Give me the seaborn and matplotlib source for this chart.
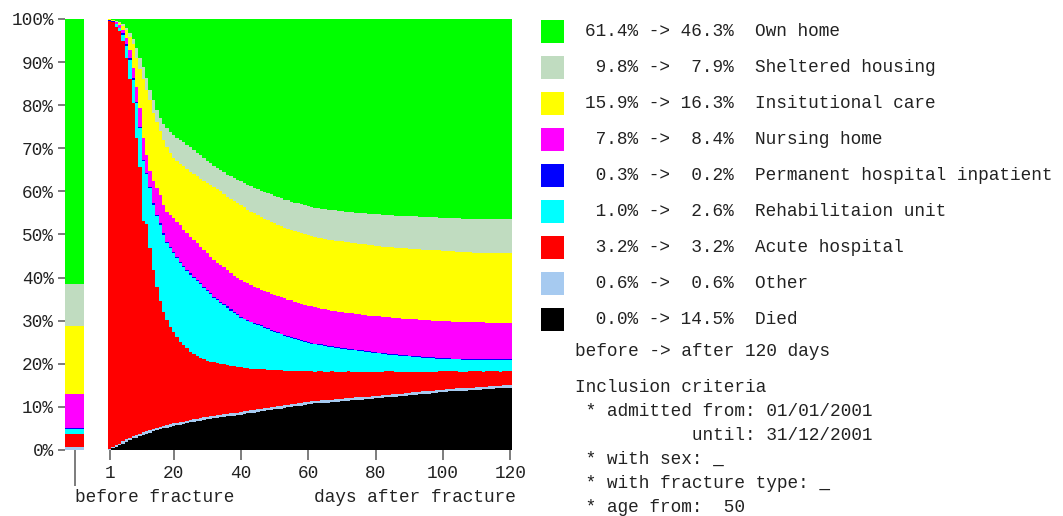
import numpy as np
import matplotlib
matplotlib.use("Agg")
import matplotlib.pyplot as plt
import seaborn as sns
from matplotlib.patches import Rectangle

# ---------------- data (percent of patients, stacked bottom -> top) ----------------
categories = ["Died", "Other", "Acute hospital", "Rehabilitaion unit",
              "Permanent hospital inpatient", "Nursing home", "Insitutional care",
              "Sheltered housing", "Own home"]
colors = ["#000000", "#a6caf0", "#ff0000", "#00ffff", "#0000ff",
          "#ff00ff", "#ffff00", "#c0dcc0", "#00ff00"]
before = [0.0, 0.6, 3.2, 1.0, 0.3, 7.8, 15.9, 9.8, 61.4]

days = list(range(1, 121))
x_ticks = [1, 20, 40, 60, 80, 100, 120]
y_ticks = [0, 10, 20, 30, 40, 50, 60, 70, 80, 90, 100]

died = [0.0, 0.4, 0.8, 1.2, 1.5, 1.9, 2.3, 2.7, 2.9, 3.2,
        3.5, 3.7, 4.0, 4.3, 4.6, 4.8, 5.0, 5.2, 5.4, 5.6,
        5.7, 5.9, 6.0, 6.2, 6.4, 6.5, 6.7, 6.8, 7.0, 7.1,
        7.2, 7.4, 7.5, 7.6, 7.7, 7.8, 7.9, 8.0, 8.1, 8.2,
        8.4, 8.5, 8.6, 8.7, 8.8, 9.0, 9.1, 9.2, 9.3, 9.4,
        9.5, 9.6, 9.8, 9.9, 10.0, 10.1, 10.2, 10.3, 10.5, 10.6,
        10.7, 10.8, 10.8, 10.9, 11.0, 11.0, 11.1, 11.2, 11.2, 11.3,
        11.4, 11.4, 11.5, 11.6, 11.6, 11.7, 11.8, 11.8, 11.9, 12.0,
        12.0, 12.1, 12.2, 12.2, 12.3, 12.4, 12.5, 12.5, 12.6, 12.7,
        12.8, 12.8, 12.9, 13.0, 13.1, 13.1, 13.2, 13.3, 13.4, 13.4,
        13.5, 13.6, 13.6, 13.7, 13.7, 13.8, 13.8, 13.9, 13.9, 14.0,
        14.0, 14.1, 14.1, 14.2, 14.2, 14.3, 14.3, 14.4, 14.4, 14.5]

other = [0.3, 0.3, 0.3, 0.3, 0.6, 0.6, 0.6, 0.6, 0.6, 0.6,
         0.6, 0.6, 0.6, 0.6, 0.6, 0.6, 0.6, 0.6, 0.6, 0.6,
         0.6, 0.6, 0.6, 0.6, 0.6, 0.6, 0.6, 0.6, 0.6, 0.6,
         0.6, 0.6, 0.6, 0.6, 0.6, 0.6, 0.6, 0.6, 0.6, 0.6,
         0.6, 0.6, 0.6, 0.6, 0.6, 0.6, 0.6, 0.6, 0.6, 0.6,
         0.6, 0.6, 0.6, 0.6, 0.6, 0.6, 0.6, 0.6, 0.6, 0.6,
         0.6, 0.6, 0.6, 0.6, 0.6, 0.6, 0.6, 0.6, 0.6, 0.6,
         0.6, 0.6, 0.6, 0.6, 0.6, 0.6, 0.6, 0.6, 0.6, 0.6,
         0.6, 0.6, 0.6, 0.6, 0.6, 0.6, 0.6, 0.6, 0.6, 0.6,
         0.6, 0.6, 0.6, 0.6, 0.6, 0.6, 0.6, 0.6, 0.6, 0.6,
         0.6, 0.6, 0.6, 0.6, 0.6, 0.6, 0.6, 0.6, 0.6, 0.6,
         0.6, 0.6, 0.6, 0.6, 0.6, 0.6, 0.6, 0.6, 0.6, 0.6]

acute = [99.2, 98.5, 97.1, 95.6, 92.8, 88.4, 83.1, 77.3, 69.0, 61.9,
         49.1, 48.1, 42.2, 36.9, 32.7, 29.2, 26.5, 24.4, 22.6, 21.2,
         20.0, 18.6, 17.8, 16.8, 15.8, 15.2, 14.6, 14.0, 13.4, 13.0,
         12.7, 12.4, 12.1, 11.8, 11.6, 11.3, 11.0, 10.8, 10.6, 10.4,
         10.1, 9.9, 9.7, 9.6, 9.4, 9.1, 9.0, 8.8, 8.7, 8.5,
         8.4, 8.3, 8.0, 7.9, 7.8, 7.7, 7.5, 7.5, 7.2, 7.1,
         7.0, 6.8, 6.9, 6.8, 6.6, 6.6, 6.6, 6.4, 6.4, 6.3,
         6.2, 6.3, 6.1, 6.0, 6.0, 5.9, 5.8, 5.8, 5.7, 5.6,
         5.6, 5.5, 5.5, 5.5, 5.4, 5.2, 5.1, 5.1, 5.0, 4.9,
         4.8, 4.8, 4.7, 4.6, 4.5, 4.5, 4.4, 4.3, 4.3, 4.3,
         4.2, 4.1, 4.1, 4.0, 3.9, 3.8, 3.8, 3.8, 3.8, 3.7,
         3.7, 3.5, 3.6, 3.5, 3.5, 3.4, 3.3, 3.3, 3.3, 3.2]

rehab = [0.1, 0.2, 0.6, 0.8, 1.5, 2.9, 4.6, 5.3, 8.0, 9.0,
         13.8, 11.6, 14.0, 15.1, 16.3, 17.7, 17.9, 17.8, 18.3, 18.3,
         18.2, 18.3, 18.0, 17.9, 17.9, 17.6, 17.2, 17.0, 16.6, 16.1,
         15.6, 14.9, 14.5, 14.1, 13.7, 13.3, 12.8, 12.4, 12.0, 11.4,
         11.2, 11.0, 10.7, 10.4, 10.2, 10.0, 9.7, 9.4, 9.1, 8.9,
         8.6, 8.3, 8.1, 7.9, 7.6, 7.4, 7.2, 6.9, 6.8, 6.6,
         6.4, 6.3, 6.1, 6.0, 5.9, 5.8, 5.6, 5.5, 5.4, 5.3,
         5.2, 5.0, 5.0, 4.9, 4.8, 4.7, 4.6, 4.5, 4.4, 4.3,
         4.2, 4.1, 3.9, 3.8, 3.8, 3.8, 3.7, 3.6, 3.6, 3.5,
         3.4, 3.3, 3.3, 3.2, 3.2, 3.1, 3.1, 3.0, 2.9, 2.8,
         2.8, 2.8, 2.7, 2.7, 2.8, 2.7, 2.7, 2.6, 2.6, 2.6,
         2.6, 2.7, 2.6, 2.6, 2.6, 2.6, 2.7, 2.6, 2.6, 2.6]

perm = [0.1, 0.1, 0.1, 0.1, 0.3, 0.3, 0.3, 0.3, 0.3, 0.3,
        0.3, 0.3, 0.3, 0.3, 0.3, 0.3, 0.3, 0.3, 0.3, 0.3,
        0.3, 0.3, 0.3, 0.3, 0.3, 0.3, 0.3, 0.3, 0.3, 0.3,
        0.3, 0.3, 0.3, 0.3, 0.3, 0.3, 0.3, 0.3, 0.3, 0.3,
        0.2, 0.2, 0.2, 0.2, 0.2, 0.2, 0.2, 0.2, 0.2, 0.2,
        0.2, 0.2, 0.2, 0.2, 0.2, 0.2, 0.2, 0.2, 0.2, 0.2,
        0.2, 0.2, 0.2, 0.2, 0.2, 0.2, 0.2, 0.2, 0.2, 0.2,
        0.2, 0.2, 0.2, 0.2, 0.2, 0.2, 0.2, 0.2, 0.2, 0.2,
        0.2, 0.2, 0.2, 0.2, 0.2, 0.2, 0.2, 0.2, 0.2, 0.2,
        0.2, 0.2, 0.2, 0.2, 0.2, 0.2, 0.2, 0.2, 0.2, 0.2,
        0.2, 0.2, 0.2, 0.2, 0.2, 0.2, 0.2, 0.2, 0.2, 0.2,
        0.2, 0.2, 0.2, 0.2, 0.2, 0.2, 0.2, 0.2, 0.2, 0.2]

nursing = [0.1, 0.1, 0.3, 0.5, 0.8, 1.4, 1.9, 2.4, 3.5, 4.3,
           5.2, 4.2, 3.7, 5.3, 6.2, 6.6, 6.5, 7.0, 7.3, 7.8,
           8.2, 8.5, 8.3, 8.5, 8.5, 8.5, 8.6, 8.5, 8.5, 8.5,
           8.4, 8.5, 8.5, 8.5, 8.5, 8.5, 8.4, 8.3, 8.2, 8.5,
           8.5, 8.5, 8.5, 8.4, 8.3, 8.3, 8.3, 8.4, 8.4, 8.4,
           8.4, 8.4, 8.5, 8.4, 8.5, 8.4, 8.5, 8.4, 8.4, 8.4,
           8.4, 8.4, 8.3, 8.2, 8.3, 8.2, 8.2, 8.3, 8.3, 8.3,
           8.3, 8.3, 8.3, 8.3, 8.3, 8.3, 8.3, 8.3, 8.3, 8.3,
           8.4, 8.4, 8.5, 8.5, 8.4, 8.5, 8.5, 8.5, 8.5, 8.5,
           8.5, 8.6, 8.5, 8.6, 8.5, 8.6, 8.5, 8.6, 8.6, 8.6,
           8.6, 8.6, 8.6, 8.6, 8.6, 8.6, 8.6, 8.6, 8.5, 8.5,
           8.5, 8.5, 8.4, 8.4, 8.4, 8.4, 8.4, 8.4, 8.4, 8.4]

inst = [0.1, 0.1, 0.2, 0.5, 0.9, 1.9, 3.0, 5.6, 6.7, 9.0,
        13.6, 15.1, 16.4, 15.8, 15.3, 14.8, 15.2, 14.9, 14.3, 14.0,
        14.0, 14.1, 14.8, 14.9, 15.1, 15.3, 15.5, 15.7, 16.0, 16.4,
        16.7, 16.9, 17.0, 17.1, 17.0, 17.0, 17.3, 17.4, 17.5, 17.4,
        17.3, 17.1, 17.0, 17.0, 17.0, 16.9, 16.8, 16.8, 16.7, 16.6,
        16.5, 16.5, 16.4, 16.4, 16.3, 16.4, 16.4, 16.5, 16.5, 16.5,
        16.4, 16.4, 16.4, 16.4, 16.4, 16.4, 16.4, 16.4, 16.4, 16.4,
        16.4, 16.4, 16.4, 16.4, 16.4, 16.4, 16.4, 16.4, 16.4, 16.4,
        16.3, 16.3, 16.2, 16.2, 16.3, 16.2, 16.3, 16.3, 16.3, 16.3,
        16.4, 16.3, 16.4, 16.3, 16.4, 16.3, 16.4, 16.3, 16.3, 16.3,
        16.3, 16.2, 16.3, 16.2, 16.2, 16.2, 16.2, 16.2, 16.2, 16.2,
        16.2, 16.2, 16.3, 16.3, 16.3, 16.3, 16.3, 16.3, 16.3, 16.3]

sheltered = [0.0, 0.1, 0.2, 0.3, 0.5, 0.6, 1.0, 1.1, 2.3, 2.7,
             2.8, 2.6, 2.3, 2.9, 2.8, 3.0, 3.6, 4.4, 5.0, 5.3,
             5.5, 5.7, 5.6, 5.6, 5.6, 5.6, 5.5, 5.5, 5.3, 5.1,
             5.0, 4.9, 4.9, 4.9, 5.0, 5.1, 5.2, 5.3, 5.4, 5.6,
             5.7, 5.8, 5.9, 6.0, 6.0, 6.1, 6.2, 6.2, 6.3, 6.4,
             6.5, 6.5, 6.5, 6.6, 6.6, 6.6, 6.6, 6.6, 6.6, 6.6,
             6.7, 6.7, 6.8, 6.9, 6.9, 7.0, 7.0, 7.0, 7.0, 7.0,
             7.0, 7.0, 7.1, 7.1, 7.1, 7.2, 7.2, 7.2, 7.3, 7.3,
             7.4, 7.4, 7.5, 7.5, 7.5, 7.5, 7.5, 7.5, 7.5, 7.6,
             7.5, 7.6, 7.5, 7.6, 7.6, 7.6, 7.6, 7.7, 7.6, 7.7,
             7.7, 7.7, 7.7, 7.8, 7.8, 7.8, 7.8, 7.8, 7.9, 7.9,
             7.9, 7.9, 7.9, 7.9, 7.9, 7.9, 7.9, 7.9, 7.9, 7.9]

own_home = [0.1, 0.2, 0.4, 0.7, 1.1, 2.0, 3.2, 4.7, 6.7, 9.0,
            11.1, 13.8, 16.5, 18.8, 21.2, 23.0, 24.4, 25.4, 26.2, 26.9,
            27.5, 28.0, 28.6, 29.2, 29.8, 30.4, 31.0, 31.6, 32.3, 32.9,
            33.5, 34.1, 34.6, 35.1, 35.6, 36.1, 36.5, 36.9, 37.3, 37.6,
            38.0, 38.4, 38.8, 39.1, 39.5, 39.8, 40.1, 40.4, 40.7, 41.0,
            41.3, 41.6, 41.9, 42.1, 42.4, 42.6, 42.8, 43.0, 43.2, 43.4,
            43.6, 43.8, 43.9, 44.0, 44.1, 44.2, 44.3, 44.4, 44.5, 44.6,
            44.7, 44.8, 44.8, 44.9, 45.0, 45.0, 45.1, 45.2, 45.2, 45.3,
            45.3, 45.4, 45.4, 45.5, 45.5, 45.6, 45.6, 45.7, 45.7, 45.7,
            45.8, 45.8, 45.9, 45.9, 45.9, 46.0, 46.0, 46.0, 46.1, 46.1,
            46.1, 46.2, 46.2, 46.2, 46.2, 46.3, 46.3, 46.3, 46.3, 46.3,
            46.3, 46.3, 46.3, 46.3, 46.3, 46.3, 46.3, 46.3, 46.3, 46.3]

series = [died, other, acute, rehab, perm, nursing, inst, sheltered, own_home]

criteria_lines = ["Inclusion criteria",
                  " * admitted from: 01/01/2001",
                  "           until: 31/12/2001",
                  " * with sex: _",
                  " * with fracture type: _",
                  " * age from:  50"]

# ---------------- styling ----------------
sns.set_theme(style="white")
plt.rcParams["font.family"] = ["Liberation Mono", "DejaVu Sans Mono"]
FS = 12.8
TXT = "#222222"
TICK = "#666666"

W, H = 1063, 516
fig = plt.figure(figsize=(W / 100, H / 100), dpi=100)

# overlay axes in pixel coordinates for legend and free text
ov = fig.add_axes([0, 0, 1, 1])
ov.set_xlim(0, W)
ov.set_ylim(H, 0)
ov.axis("off")

top_px, bot_px = 19, 450
ax0 = fig.add_axes([65 / W, 1 - bot_px / H, 19 / W, (bot_px - top_px) / H])
ax = fig.add_axes([108 / W, 1 - bot_px / H, (512 - 108) / W, (bot_px - top_px) / H])

# ---------- before-fracture stacked bar ----------
pal = sns.color_palette(colors)
bottoms = np.cumsum(before) - np.array(before)
ax0.bar([0] * len(before), before, bottom=bottoms, width=1.0, color=pal,
        linewidth=0)
ax0.set_xlim(-0.5, 0.5)
ax0.set_ylim(0, 100)
ax0.set_yticks(y_ticks)
ax0.set_yticklabels([f"{v}%" for v in y_ticks])
ax0.set_xticks([0])
ax0.set_xticklabels([""])
ax0.tick_params(axis="y", left=True, length=5, width=1.2, color=TICK, pad=3,
                labelsize=FS, labelcolor=TXT)
ax0.tick_params(axis="x", bottom=True, length=26, width=1.2, color=TICK)
sns.despine(ax=ax0, left=True, bottom=True)

# ---------- daily stacked area (step) ----------
edges = np.arange(days[0] - 0.5, days[-1] + 1.5, 1.0)
arr = np.array(series, dtype=float)
arr = arr / arr.sum(axis=0) * 100.0
arr_ext = np.concatenate([arr, arr[:, -1:]], axis=1)
ax.stackplot(edges, *arr_ext, colors=pal, step="post", linewidth=0,
             antialiased=False)
ax.set_xlim(days[0] - 0.5, days[-1] + 0.5)
ax.set_ylim(0, 100)
ax.set_yticks([])
ax.set_xticks(x_ticks)
ax.set_xticklabels([str(t) for t in x_ticks])
ax.tick_params(axis="x", bottom=True, length=7, width=1.2, color=TICK, pad=4,
               labelsize=FS, labelcolor=TXT)
sns.despine(ax=ax, left=True, bottom=True)

ov.text(75, 497, "before fracture", ha="left", va="center", fontsize=FS, color=TXT)
ov.text(516, 497, "days after fracture", ha="right", va="center", fontsize=FS, color=TXT)

# ---------- legend ----------
order = list(range(len(categories)))[::-1]
for i, idx in enumerate(order):
    yc = 31.5 + 36 * i
    ov.add_patch(Rectangle((541, yc - 11.5), 22.5, 23, facecolor=pal[idx],
                           edgecolor="none"))
    label = f"{before[idx]:4.1f}% -> {series[idx][-1]:4.1f}%  {categories[idx]}"
    ov.text(585, yc, label, ha="left", va="center", fontsize=FS, color=TXT)

ov.text(575, 352, "before -> after 120 days", ha="left", va="center",
        fontsize=FS, color=TXT)
crit_y = [388, 411.5, 435, 459, 483, 507]
for yy, line in zip(crit_y, criteria_lines):
    ov.text(575, yy, line, ha="left", va="center", fontsize=FS, color=TXT)

fig.savefig("out.png", dpi=100)
